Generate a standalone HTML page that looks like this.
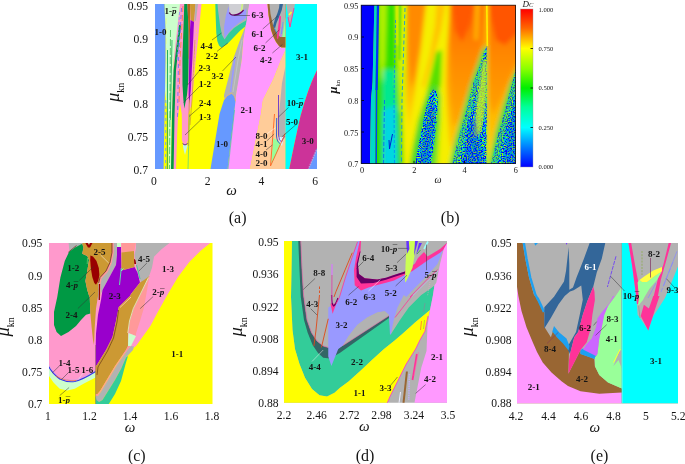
<!DOCTYPE html>
<html><head><meta charset="utf-8"><title>Figure</title><style>
html,body{margin:0;padding:0;background:#fff}
svg{display:block}
text{font-family:"Liberation Serif",serif;fill:#151515}
</style></head><body>
<svg width="685" height="464" viewBox="0 0 685 464">
<rect width="685" height="464" fill="#fff"/>
<defs>
<clipPath id="ca"><rect x="155" y="4" width="162" height="165"/></clipPath>
<clipPath id="cb"><rect x="361" y="5" width="155" height="159"/></clipPath>
<clipPath id="cc"><rect x="49" y="243" width="163.5" height="161"/></clipPath>
<clipPath id="cd"><rect x="284" y="241" width="163" height="161.7"/></clipPath>
<clipPath id="ce"><rect x="517" y="243" width="161" height="160.3"/></clipPath>
</defs>
<defs>
<filter id="bl" x="-10%" y="-10%" width="120%" height="120%"><feGaussianBlur stdDeviation="2.2"/></filter>
<filter id="bl1" x="-10%" y="-10%" width="120%" height="120%"><feGaussianBlur stdDeviation="1"/></filter>
<filter id="nz" x="0" y="0" width="100%" height="100%" color-interpolation-filters="sRGB">
<feTurbulence type="fractalNoise" baseFrequency="0.8" numOctaves="2" seed="11"/>
<feColorMatrix type="matrix" values="2.6 0 0 0 -0.8  2.6 0 0 0 -0.8  2.6 0 0 0 -0.8  0 0 0 0 1"/>
<feComponentTransfer>
<feFuncR type="table" tableValues="0 0 0 0 0 0 0.1 0.4 0.7"/>
<feFuncG type="table" tableValues="0 0 0.1 0.4 0.7 0.85 0.9 0.95 1"/>
<feFuncB type="table" tableValues="1 1 1 1 0.95 0.7 0.4 0.1 0"/>
</feComponentTransfer>
<feGaussianBlur stdDeviation="0.45"/>
<feComposite operator="in" in2="SourceGraphic"/>
</filter>
<linearGradient id="jet" x1="0" y1="0" x2="0" y2="1">
<stop offset="0" stop-color="#ff0000"/><stop offset="0.12" stop-color="#ff6600"/><stop offset="0.25" stop-color="#ffff00"/><stop offset="0.38" stop-color="#88ff00"/><stop offset="0.5" stop-color="#00ee00"/><stop offset="0.62" stop-color="#00ff99"/><stop offset="0.75" stop-color="#00ffff"/><stop offset="0.88" stop-color="#0077ff"/><stop offset="1" stop-color="#0000ff"/>
</linearGradient>
<linearGradient id="gO" gradientUnits="userSpaceOnUse" x1="0" y1="5" x2="0" y2="163"><stop offset="0" stop-color="#ff8400"/><stop offset="0.5" stop-color="#ffa800"/><stop offset="1" stop-color="#ffd400"/></linearGradient>
<linearGradient id="gT" gradientUnits="userSpaceOnUse" x1="0" y1="5" x2="0" y2="140"><stop offset="0" stop-color="#ff9800"/><stop offset="0.55" stop-color="#ffb000"/><stop offset="1" stop-color="#fff000"/></linearGradient>
<linearGradient id="gI" gradientUnits="userSpaceOnUse" x1="0" y1="5" x2="0" y2="163"><stop offset="0" stop-color="#ff5a00"/><stop offset="0.13" stop-color="#ff7400"/><stop offset="0.32" stop-color="#ff8800"/><stop offset="0.6" stop-color="#ff9c00"/><stop offset="1" stop-color="#ffb800"/></linearGradient>
</defs>
<!-- panel a -->
<g clip-path="url(#ca)">
<rect x="155" y="4" width="162" height="165" fill="#ffff00"/>
<!-- left stripes -->
<polygon fill="#ff99cc" points="178,4 201.5,4 198,40 195.5,62 193,90 191.5,105 189,112 188.5,114 188,140 186.5,144.5 183.5,144.5 181.75,140 181.75,114 180,104 178,116 177,140 176,169 173.6,169 172,116 172.5,90 173.6,60"/>
<polygon fill="#ccffcc" points="164.5,4 180,4 177,30 173.6,60 172.5,90 171.75,116 171,169 168.5,169 168,116 166.5,105 165,90 165.5,60 165.5,30"/>
<polygon fill="#c4f5e0" points="182.3,145 187.7,145 185,155"/>
<path d="M182.3,143.5 Q185,146.5 187.7,143.5" stroke="#5a2aa0" stroke-width="1" fill="none"/>
<polygon fill="#009944" points="179,25 181,25 176,70 174.5,116 173.6,169 171,169 172,116 173.6,70"/>
<polygon fill="#009944" points="184.25,4 187.4,4 188.6,30 188.6,58 188.3,80 187,95 185,105 184.3,108.5 183.4,100 182.5,85 182.4,58 183.4,30"/>
<polygon fill="#b5651d" points="187.4,4 190,4 190,30 189.2,60 188.6,58 188.6,30"/>
<polygon fill="#cc9933" points="190,4 195.5,4 194,22 190.5,20"/>
<polygon fill="#9900cc" points="190.5,20 194,22 193.6,30 192.4,58 190.8,90 189.3,104 188.6,95 189.25,58 190,30"/>
<polygon fill="#b2b2b2" points="195.5,4 198,4 196,20 194.5,22"/>
<!-- thin texture lines -->
<g fill="none" stroke-width="0.8">
<path d="M167.5,50 L167.3,169" stroke="#009944"/>
<path d="M166.3,8 L166.5,100" stroke="#e8ff88" stroke-width="0.7" stroke-dasharray="6 4"/>
<path d="M170.5,30 L169.5,169" stroke="#44bb55" stroke-dasharray="7 2"/>
<path d="M165.8,100 L165.6,169" stroke="#6699ff" stroke-dasharray="3 3"/>
<path d="M172,40 L170.3,120" stroke="#009944" stroke-width="0.7"/>
<path d="M181.5,8 L178.5,60 L177.5,120" stroke="#6666ff" stroke-dasharray="4 3"/>
<path d="M183,6 L180,60 L179,104" stroke="#ff7733" stroke-dasharray="6 3"/>
<path d="M179.5,12 L177,60" stroke="#6699ff" stroke-width="0.7" stroke-dasharray="3 2"/>
<path d="M189.5,114 L188,169" stroke="#33cc99" stroke-width="0.6"/>
<path d="M189.3,100 L188.3,146" stroke="#cc9933" stroke-width="0.8"/>
<path d="M195,40 L192,100 L190,125" stroke="#cc9933" stroke-width="0.7"/>
<path d="M196.5,30 L193.5,80" stroke="#ffcc66" stroke-width="0.7" stroke-dasharray="2 1.5"/>
</g>
<polygon fill="#ffff00" points="178.3,118 181.5,118 181.5,140 183,146 184.5,169 177,169 177.5,140"/>
<polygon fill="#6699ff" points="155,4 164.5,4 165.5,30 165.5,60 164.5,116 163.6,169 155,169"/>
<!-- teal / gray / lavender top-middle -->
<polygon fill="#33cc99" points="215.3,4 215.8,20 216.3,33 217.3,41 219,45.5 221.5,47.8 227.75,43.5 234,37 240.25,30.5 245.25,26.5 246.8,23 249,4"/>
<polygon fill="#b2b2b2" points="217.5,4 249,4 247.5,14 246,20.5 240,24 234,28 229,33 224.5,39.5 222,35 220,25 218,10"/>
<polygon fill="#9999ff" points="224.5,39 224,27 226,15 228.5,6 229.5,13 231,15 236,15 241,13.5 243.5,11 246.5,8 246,18 238,23.5 231,29.5 226,36"/>
<polygon fill="#cfcfd4" points="229,4 243.5,4 243,10 241,13 236,14.5 231,14.5 229.5,12"/>
<path d="M229.5,12.5 Q230,15.5 235,15 T243.5,10" stroke="#660066" stroke-width="1.3" fill="none"/>
<path d="M242.3,4 L241.5,11" stroke="#ccff66" stroke-width="1.2"/>
<!-- gray band between yellow and pink -->
<polygon fill="#b2b2b2" points="245.5,26 247,22 243.4,39.5 241.75,60 240,75 236,95 235.5,101 231.5,93.5 224,98 224,95 233.5,58 240,40"/>
<path d="M235,57 L230.5,92" stroke="#9999ff" stroke-width="1.6" fill="none"/>
<path d="M242,40 L238,60 L233,92" stroke="#c0c8cc" stroke-width="0.8" fill="none"/>
<!-- pink 2-1 -->
<polygon fill="#ff99ff" points="249,4 267.5,4 268.5,15 271,30 273.5,37 276,42 279,46 281.5,47.5 285.5,47.5 285.5,50 281,60 273,80 263,100 261,114 250,169 227.5,169 234,114 236,95 241.75,60 243.4,39.5 246.5,21"/>
<!-- blue 1-0 centre -->
<path d="M210.5,169 L219.5,114 L224,100 Q226,95 231.5,93.5 Q235,95 235.5,101 L234,114 L227.5,169 Z" fill="#6699ff"/>
<path d="M224,100 Q226,95 231.5,93.5 Q235,95 235.5,101" stroke="#ffb060" stroke-width="0.7" fill="none"/>
<path d="M234.5,110 L228,169" stroke="#33cc99" stroke-width="0.6" fill="none"/>
<!-- peach -->
<polygon fill="#ffcc99" points="285.5,50 281,60 273,80 263,100 261,114 250,169 285.5,169"/>
<polygon fill="#b2b2b2" points="285.5,66 282,83 279,114 279,135 280.5,140 283,140 285.5,137"/>
<polygon fill="#99ff99" points="273.3,138 281.5,143 277,153 271,165"/>
<polygon fill="#d8f0ff" points="278,137 284,137 282,146 280,144"/>
<g fill="none">
<path d="M278.5,95 L278.5,135 Q279,141 281.5,142 L284.5,136" stroke="#6633cc" stroke-width="0.9"/>
<path d="M276.7,118 L276.5,136 Q277,142 280,143.5" stroke="#3366cc" stroke-width="1"/>
<path d="M274.5,114 L270.5,166 L285.5,133" stroke="#ff6622" stroke-width="0.9"/>
</g>
<!-- cyan / magenta -->
<path d="M285.5,4 L317,4 L317,70 Q308,88 300.5,116 Q295,140 289.25,169 L285.5,169 Z" fill="#00ffff"/>
<path d="M317,70 Q308,88 300.5,116 Q295,140 289.25,169 L317,169 Z" fill="#cc3399"/>
<polygon fill="#6699ff" points="317,148 308.6,169 317,169"/>
<path d="M316.5,150 L308.5,169" stroke="#b0a0e0" stroke-width="1.5" stroke-dasharray="1.5 1" fill="none"/>
<polygon fill="#b2b2b2" points="286.3,4 295,4 290,28"/>
<path d="M294,8 L290,27 L288,17" stroke="#ff3399" stroke-width="0.9" fill="none"/>
<path d="M289,15 L291.5,12" stroke="#ffff33" stroke-width="1.6"/>
<!-- brown 4-2 -->
<polygon fill="#996633" points="267.5,4 268.5,15 271,30 273.5,37 276,42 279,46 281.5,47.5 285.5,47.5 285.5,4"/>
<polygon fill="#b2b2b2" points="269.5,4 285.5,4 285.5,37 280,37 277,33 273,25 270.5,14"/>
<polygon fill="#336699" points="279.5,4 283,4 281.8,10 279.5,16 276.5,23 275,28.5 273,26 275,19 277.5,13 279,8"/>
<path d="M274.5,28 L278,35.5" stroke="#33aaff" stroke-width="0.8"/>
<polygon fill="#ff3399" points="279.5,15.5 281,16.5 280.3,28 278,39.5 276.8,38 278,28"/>
<polygon fill="#99ff99" points="285.3,17 285.5,37 282.3,37 284,27"/>
<path d="M282,27 L280.7,37" stroke="#cc66ff" stroke-width="0.9"/>
<path d="M283,22 L281.5,34" stroke="#33aaff" stroke-width="0.6"/>
<!-- leader lines -->
<g stroke="#333" stroke-width="0.5" fill="none">
<path d="M212,40 L221.5,33"/><path d="M217,51.4 L227.7,43"/><path d="M200,70 L187.5,85"/><path d="M200,86 L183.7,102.5"/>
<path d="M236,57 L222.5,71"/><path d="M201,106 L189,116.5"/><path d="M201,119.6 L185,135"/>
<path d="M234,15.5 L250,15.5"/><path d="M262.7,29 L278,15.7"/><path d="M265.5,43 L279.2,30"/><path d="M272.4,53 L282.4,44.5"/>
<path d="M288.6,107.4 L278.5,117"/><path d="M296,124.6 L281.7,137"/><path d="M266.7,141 L274.2,134"/><path d="M266,150 L272.4,145"/>
<path d="M266.7,134 L275.5,127.7" stroke="#fff"/>
</g>
<g font-size="9" font-weight="bold" text-anchor="middle" fill="#111">
<text x="170.5" y="14.4">1-<tspan font-style="italic">p</tspan><tspan dx="-4.3" dy="-0.6" font-weight="normal">¯</tspan></text><text x="160.6" y="34.5">1-0</text>
<text x="206.5" y="48.8">4-4</text><text x="212" y="59.1">2-2</text><text x="204.5" y="70.5">2-3</text><text x="217.5" y="78.8">3-2</text>
<text x="205" y="86.8">1-2</text><text x="205" y="105.5">2-4</text><text x="205" y="120.0">1-3</text><text x="246.5" y="113.0">2-1</text>
<text x="222" y="147.0">1-0</text><text x="257.5" y="17.6">6-3</text><text x="257.5" y="37.1">6-1</text><text x="259.5" y="50.7">6-2</text>
<text x="266" y="62.6">4-2</text><text x="302" y="60.1">3-1</text><text x="295" y="105.5">10-<tspan font-style="italic">p</tspan><tspan dx="-4.3" dy="-0.6" font-weight="normal">¯</tspan></text><text x="292" y="125.0">5-0</text>
<text x="307.7" y="143.5">3-0</text><text x="261.5" y="139.4">8-0</text><text x="261.5" y="147.2">4-1</text><text x="261.5" y="157.4">4-0</text><text x="261.5" y="165.6">2-0</text>
</g>
</g>
<!-- panel b -->
<g clip-path="url(#cb)">
<g filter="url(#bl)">
<rect x="350" y="-5" width="180" height="180" fill="#f6ee00"/>
<!-- left green zone -->
<polygon fill="#2fe000" points="370,-5 396,-5 400,60 404,175 370,175"/>
<polygon fill="#b4f000" points="379,-5 387,-5 385,60 382,85 379.5,60"/>
<polygon fill="#d0f200" points="396,-5 408,-5 406,70 404,120 400,110 397,60"/>
<polygon fill="#00d8e0" points="383,105 396,98 398,175 383,175"/>
<polygon fill="#00e890" points="383,70 395,70 396,105 383,110"/>
<!-- tongue 1 -->
<polygon fill="url(#gT)" points="406.5,-5 427,-5 421,50 416,85 412,112 409,138 406,100 406,60"/>
<polygon fill="#ff8a00" points="408,-5 425.5,-5 419.5,45 414.5,75 411.5,88 408.5,55"/>
<!-- between t1 and t2 -->
<polygon fill="#ffc400" points="437,-5 447,-5 441,30 432,62 424,88 422,86 430,55 435,25"/>
<polygon fill="#58e000" points="436,52 442,50 441,84 438,100 433,100 426,112 420,135 414,175 408,175 412,150 418,120 426,95"/>
<polygon fill="#a8ec00" points="436,100 440,84 441,120 438,175 432,175"/>
<!-- tongue 2 -->
<polygon fill="url(#gO)" points="450,-5 486,-5 486.5,45 480,65 473,84 465,115 458,140 452,155 449,140 447,110 446,84 447,50 449,20"/>
<polygon fill="url(#gI)" points="452,-5 484,-5 482,40 474,70 466,95 458,120 453,127 451,100 451,50"/>
<polygon fill="#ff5800" points="453,-5 475,-5 470,25 462,42 455,30"/>
<polygon fill="#ffb000" points="475,-5 481,-5 478,40 474,40"/>
<!-- tongue 3 -->
<polygon fill="url(#gO)" points="488,-5 525,-5 525,60 512,84 505,110 498,135 491,160 489,160 487.5,120 487.5,60"/>
<polygon fill="url(#gI)" points="489,-5 525,-5 525,40 510,75 500,100 493,115 489.5,100 489.5,40"/>
<polygon fill="#ff5400" points="491,-5 525,-5 525,25 505,45 496,40 492,20"/>
<polygon fill="#48d838" points="433,86 438,88 440.5,96 440,110 439,124 437,142 434,170 411,170 414,150 418,130 422,113 425,100 428,92"/>
<polygon fill="#60d848" points="487,44 482,50 477,64 470,84 462,113 455,138 448,170 487,170"/>
<polygon fill="#58d848" points="520,62 510,82 502,108 495,133 487.5,170 520,170"/>
</g>
<!-- speckle regions -->
<g filter="url(#nz)">
<polygon points="433.5,89.5 436,91 437.8,96 437.5,108 436.5,122 434.5,140 431,164 415,164 417.5,150 421,132 424.5,115 427.5,102 430,94"/>
<polygon points="486.5,46 484,52 480,65 473,84 465,115 458,140 452.4,164 486.3,164 486.8,100"/>
<polygon points="516,69 512,84 505,110 498,135 491,164 517,164"/>
</g>
<g filter="url(#bl1)">
<polygon fill="#f0f000" points="396,5 398.3,5 397.6,45 396.3,45"/>
<polygon fill="#50e010" points="398.5,5 401.6,5 400.5,60 398.8,60"/>
<polygon fill="#d8f200" points="401.8,5 406.2,5 405,70 402.5,70"/>
<polygon fill="#c8f020" opacity="0.8" points="483,60 486.5,60 486.5,84 486,100 483.5,118 480,134 474,136 475,120 477,100 479.5,84"/>
<polygon fill="#60e040" opacity="0.45" points="484,52 480,65 473,84 465,115 458,140 452.4,164 458,164 463,140 470,115 477,88 483,66"/>
<polygon fill="#0030e0" opacity="0.35" points="470,120 476,118 480,145 484,164 462,164"/>
<polygon fill="#60e040" opacity="0.45" points="516,69 512,84 505,110 498,135 491,164 497,164 503,138 510,112 516,90"/>
<polygon fill="#0030e0" opacity="0.3" points="516,100 510,120 503,164 516,164"/>
<polygon fill="#0030e0" opacity="0.35" points="432,98 435,110 433,135 428,164 420,164 424,135 428,110"/>
</g>
<!-- sharp features -->
<path d="M486.8,5 L487.3,46" stroke="#ffee00" stroke-width="1.6"/>
<polygon fill="#0000ff" points="361,5 374.4,5 372.6,82 371,100 370,164 361,164"/>
<polygon fill="#00d8c8" points="374.4,5 376.8,5 375.5,84 375,164 370,164 371,100 372.6,82"/>
<path d="M378,5 L376.6,90" stroke="#0030ff" stroke-width="2.3" fill="none"/><path d="M376.6,88 L376.2,164" stroke="#0040ff" stroke-width="1.5" fill="none"/>
<path d="M395.5,20 L394,100 L394.5,164" stroke="#0088ff" stroke-width="0.8" stroke-dasharray="3 2" fill="none"/>
<path d="M405,8 L402,100 L401.5,164" stroke="#0088ff" stroke-width="0.8" stroke-dasharray="4 2.5" fill="none"/>
<path d="M384.5,100 L383.5,164" stroke="#0060ff" stroke-width="0.8" stroke-dasharray="4 2" fill="none"/>
<path d="M392.5,134 L389.5,149 L389,140" stroke="#0020d0" stroke-width="1" fill="none"/>
</g>
<rect x="361.2" y="5.2" width="154.2" height="158.4" stroke="#111" stroke-width="0.8" fill="none"/>
<rect x="520.5" y="9" width="12.5" height="158" fill="url(#jet)" stroke="#999" stroke-width="0.4"/>
<g stroke="#000" stroke-width="0.8"><path d="M530.5,48.5 h2.5"/><path d="M530.5,88 h2.5"/><path d="M530.5,127.5 h2.5"/>
<path d="M361.5,37 h2.5"/><path d="M361.5,68.5 h2.5"/><path d="M361.5,100.5 h2.5"/><path d="M361.5,132 h2.5"/><path d="M414,163.3 v-2.5"/><path d="M464.5,163.3 v-2.5"/></g>
<!-- panel c -->
<g clip-path="url(#cc)">
<rect x="48" y="242" width="165" height="162" fill="#ffff00"/>
<polygon fill="#ff99cc" points="48,242 211.5,242 200.4,251 189.3,262 178,277 167,295.6 157.8,312 150.4,326 142.5,337 136,346 130,350 95.6,371 89.75,375 82.25,378.75 74.75,381.25 67.25,381.25 59.75,378.75 53.5,373.75 48,365.5"/>
<polygon fill="#ccffcc" points="48,365.5 53.5,373.75 59.75,378.75 67.25,381.25 74.75,381.25 82.25,378.75 89.75,375 95.6,371.25 95.6,377.5 83.5,383.75 74.75,388.75 67.25,390.6 59.75,388.75 53.5,382.5 48,374.5"/>
<g fill="none">
<path d="M48.7,366.5 Q52,373 59.75,379 Q67,382.5 74.75,381.5 Q83,379.5 95.6,371.5" stroke="#3333ee" stroke-width="1.1"/>
<path d="M56,376 Q66,381.5 76,380.5" stroke="#ff6622" stroke-width="0.8"/>
<path d="M48.7,364.8 Q52,371.5 59.75,377.5 Q67,381 74.75,380 Q83,378 95.6,370" stroke="#c8a8f0" stroke-width="0.6"/>
</g>
<!-- gray top-left + green -->
<polygon fill="#b2b2b2" points="68.5,242 86,242 82,244.5 75,248 69.5,252"/>
<path d="M68.3,252.3 L76.5,245.5" stroke="#7a3a2a" stroke-width="0.8"/>
<polygon fill="#009944" points="69,252 75,247.5 82.25,243.75 83.5,247.5 82.25,253.75 87.25,256 89,260 87.25,271 85.4,281 87.25,290 89.75,298 90.4,313.5 86,314.75 81,320 76,326 68.5,332 61,336 56.6,332 54,325 54,312 57.25,297 60.4,277.5 64.75,261"/>
<!-- tan T1 -->
<polygon fill="#cc9933" points="82.25,243.75 84,242 112,242 112,252.5 110,262.5 106,271 100,277.5 98.5,283 99,290 98,296 96,308.5 94.75,327 94,345 93,340 91.6,327 90.4,313.5 89.75,298 87.25,290 85.4,281 87.25,271 89,260 87.25,256 82.25,253.75 83.5,247.5"/>
<polygon fill="#990000" points="90.4,255.5 93,256.5 96.5,261 98.8,268 99.4,275 98.2,281 96,284.8 94.3,283 92.3,277 90.8,268 90.2,260"/>
<polygon fill="#990000" points="84.75,242 87,242 89,245 90.5,242 93,242 90,247.5 88,247.5"/>
<polygon fill="#b2b2b2" points="87.2,242 90.3,242 89,244.5"/>
<path d="M87.5,258 L87.2,264" stroke="#66cc66" stroke-width="0.8"/>
<!-- bands between T1 and purple -->
<polygon fill="#b2b2b2" points="112,242 117,242 117,255 116,265 102.5,290 100,296 98,300 98.5,283 100,277.5 106,271 110,262.5 112,252.5"/>
<path d="M113,242 L113,252.5 L111,262.8 L107,271.5 L101,278 L99.7,284 L99.7,296" stroke="#ff9999" stroke-width="1.6" fill="none"/>
<path d="M112,242 L112,252.5 L110,262.5 L106,271 L100,277.5 L98.7,283" stroke="#7a2a1a" stroke-width="0.8" fill="none"/>
<path d="M99.5,284 L99.3,300" stroke="#990000" stroke-width="1.2" fill="none"/>
<!-- purple -->
<polygon fill="#9900cc" points="117,247 121,247 121.5,270.5 134.5,267 137.5,272.5 140,282.5 131,294 130,296 118.75,307 116,321 112.5,337 106,350 96.5,365.6 95.6,366 95.6,350 96,333.5 98,314.75 101,300 102.5,290 116,265 117,255"/>
<polygon fill="#ccffcc" points="117,242 121,242 121,247 117,247"/>
<polygon fill="#ff9999" points="121.5,242 136,242 134.5,250 134,251.5 121.5,253"/>
<polygon fill="#cc9933" points="121.5,252.5 134,251 134.5,267 121.5,270.5"/>
<polygon fill="#990000" points="134,259 136,260 136,264 134.3,264"/>
<path d="M121.3,268 L119.5,285" stroke="#66ddaa" stroke-width="1"/>
<path d="M121,271 L123.5,268.5" stroke="#66ffcc" stroke-width="1"/>
<!-- gray 4-5 -->
<polygon fill="#b2b2b2" points="136,242 170.8,242 161.5,249.3 154,256.7 152,267.8 149.5,275 148,278 141,283 139,276 136.5,266 134.5,255 136,248"/>
<path d="M136.5,265 L140,279" stroke="#33cc99" stroke-width="0.9"/>
<!-- diagonal bands -->
<polygon fill="#ff9999" points="149.5,276 146,296 143.75,308.5 140,321 136,333.5 136,336 128.5,333 128,333.5 130,321 133.75,308.5 140,296"/>
<polygon fill="#cc9933" points="149.5,276 140,296 133.75,308.5 130,321 128,333.5 128,346 126,350 115,366 106,381 100,391 97.5,394 95.6,394 95.6,366 96.5,365.6 106,350 112.5,337 116,321 118.75,307 130,296 131,294 140,282.5 144,280"/>
<path d="M148.5,277.5 L139.5,296 L133.3,308.5 L129.5,321 L127.8,333" stroke="#eaffea" stroke-width="0.7" fill="none"/>
<path d="M131,297 L120,307.5" stroke="#ffc8c8" stroke-width="0.8" fill="none"/>
<path d="M118.5,310 L117,322 L113.5,338 L107.5,351 L98,367 L97,375" stroke="#5a2a10" stroke-width="0.6" fill="none"/>
<polygon fill="#ccffcc" points="128.5,333 136,336 131,346 128,346"/>
<polygon fill="#ff9999" points="128,346 131,346 127.5,350 116.5,366 107.5,381 101.5,391 98,396 95.6,396 95.6,394 97.5,394 100,391 106,381 115,366 126,350"/>
<polygon fill="#b2b2b2" points="131,346 134,346.5 133,350 126,357.5 121,369 115,380 108.75,390 102.5,400 99,402 95.6,402 95.6,396 98,396 101.5,391 107.5,381 116.5,366 127.5,350"/>
<polygon fill="#33cc99" points="128,356 126,362.5 121,381 115,394 108.75,404 95.6,404 95.6,396 96.5,400 99,402 102.5,400 108.75,390 115,380 121,369 126,357.5"/>
<path d="M95.6,345 L95.6,404" stroke="#8a6a50" stroke-width="0.5"/>
<g stroke="#333" stroke-width="0.5" fill="none">
<path d="M79.1,280.6 L94.1,266.2"/><path d="M77.9,308.5 L95,292"/><path d="M146.9,263 L138.7,271.2"/><path d="M153.2,296.5 L140.2,308.6"/>
<path d="M59.7,365.6 L52.2,373"/><path d="M68.5,372.5 L61.6,379.4"/><path d="M59.7,395.6 L69.1,387.5"/>
<path d="M100.6,255 L108.7,263" stroke="#fff"/><path d="M82.9,373 L78.5,379.4" stroke="#eee"/>
</g>
<g font-size="9" font-weight="bold" text-anchor="middle" fill="#111">
<text x="73.2" y="270.6">1-2</text><text x="72.2" y="288.1">4-<tspan font-style="italic">p</tspan><tspan dx="-4.3" dy="-0.6" font-weight="normal">¯</tspan></text><text x="99.6" y="255.0">2-5</text><text x="71.6" y="318.4">2-4</text>
<text x="114.7" y="298.6">2-3</text><text x="144" y="261.8">4-5</text><text x="168" y="271.8">1-3</text><text x="158.3" y="295.1">2-<tspan font-style="italic">p</tspan><tspan dx="-4.3" dy="-0.6" font-weight="normal">¯</tspan></text>
<text x="177.2" y="357.2">1-1</text><text x="64.4" y="365.6">1-4</text><text x="73.5" y="373.1">1-5</text><text x="87.2" y="373.1">1-6</text><text x="64.1" y="403.1">1-<tspan font-style="italic">p</tspan><tspan dx="-4.3" dy="-0.6" font-weight="normal">¯</tspan></text>
</g>
</g>
<!-- panel d -->
<g clip-path="url(#cd)">
<rect x="284" y="241" width="164" height="163" fill="#b2b2b2"/>
<!-- teal generous -->
<polygon fill="#33cc99" points="292,241 291.5,270 291,297 292.5,330 295,349 299.5,364 305,377.75 312,389 319.5,395.25 327,396.5 334.5,392.75 340,387.75 348.5,381.5 361,370.25 373.5,358.4 384,349 394,341 402.5,333.75 415,322.5 430,310 433,295 434.4,285.5 430,289 421.25,295 408.75,307.5 400,320 391,334 389,317 340,352 330,358 320,352 310,335 303,300 299,241"/>
<polygon fill="#ffff00" points="284,241 292,241 291.5,270 291,297 292.5,330 295,349 299.5,364 305,377.75 312,389 319.5,395.25 327,396.5 334.5,392.75 340,387.75 348.5,381.5 361,370.25 373.5,358.4 384,349 394,341 402.5,333.75 415,322.5 430,310 427.5,320 425,331.25 420,340 415.6,349 406.25,364 397.5,381.5 390,396.5 387.25,403 284,403"/>
<!-- dark teal band -->
<polygon fill="#336666" points="298.25,241 299.5,270 300.75,297 304,320 307.6,332.5 312.6,345 318,353 323.25,357.75 330,358.5 339.75,353 389,318 389,315.6 342.9,345.6 336,350 328.25,347.5 323.25,346 317,341 311.4,332.5 307,320 303.5,295 302,270 300.75,241"/>
<!-- gray interior -->
<polygon fill="#b2b2b2" points="300.75,241 345,241 345,300 328.25,307.5 328.25,347.5 323.25,346 317,341 311.4,332.5 307,320 303.5,295 302,270"/>
<path d="M300.75,241 L302,270 L303.5,295 L307,320 L311.4,332.5 L317,341 L323.25,346 L328.25,347.5" stroke="#e060a0" stroke-width="0.7" fill="none"/>
<!-- lavender 3-2 -->
<polygon fill="#9999ff" points="328.25,307.5 330.75,306 332.5,313 335.75,305 339.75,297 346,276.5 352.25,257.75 357.9,241 359.75,241 356,257.75 354,270.25 354.75,285.25 361,290.25 368.5,286.5 377.25,283.4 386,280.25 394,276.5 412.5,270.25 427.5,259.6 440,251.5 444,247 442.5,251.5 437.5,264 427.5,275.25 415,287.75 406.25,297 403.75,295 397.5,307.5 393.75,320 391,334 390,335 389,315 384.75,311.25 377.25,312.5 367.25,317.5 357.25,325 348.5,336.25 342.9,345.6 338.25,349 331.4,366 328.25,356.5"/>
<!-- gray lobe -->
<polygon fill="#b2b2b2" points="342.9,345.6 348.5,336.25 357.25,325 367.25,317.5 377.25,312.5 384.75,311.25 389,315 389,315.8"/>
<path d="M342.9,345.6 L389,315.7" stroke="#e060a0" stroke-width="0.6"/>
<!-- V at left -->
<polygon fill="#ff3399" points="330.5,303.5 336.3,303.5 332.6,313.8"/>
<polygon fill="#b2b2b2" points="332,296 337.5,298 334,304.5"/>
<path d="M331.6,295 Q331.6,305 333.6,306 Q335.5,305 338,298" stroke="#660066" stroke-width="1.3" fill="none"/>
<path d="M332,264 L331.8,303" stroke="#dd44aa" stroke-width="0.9"/>
<path d="M332,264 L332,275" stroke="#cc99ff" stroke-width="1.2"/>
<path d="M357.5,242 L352,257.75 L345.7,276.5 L339.5,297 L336,304" stroke="#ff3399" stroke-width="0.8" fill="none"/>
<!-- hot pink U and dark purple -->
<polygon fill="#ff3399" points="359.75,241 361,241 360.5,251.5 357.9,264 359,274 364.75,278.2 377.25,279.4 386,277.8 394,275 403.75,272 415,263.4 418,258 424,252 427.5,256.5 440,249 447.25,242.5 447.25,246.6 440,252.8 427.5,260.6 412.5,271 394,280.5 386,282.8 377.25,285 368.5,287.5 361,290.5 354.75,285.25 354,270.25 356,257.75"/>
<polygon fill="#660066" points="359.75,251.5 360.5,251.5 357.9,264 359,274 364.75,278.2 377.25,279.4 386,277.8 394,275 405,271.5 405,273.5 394,277 386,279.8 373.5,283 361,283.5 356.6,277 356.6,264"/>
<!-- yellow-green 5-3 -->
<polygon fill="#ccff55" points="406.25,250 409.4,241 417,241 414.5,256 412.5,267.75 405.6,282.5 405,281 405.5,265"/>
<polygon fill="#6633ff" points="406.25,241 408.75,241 409.4,249 406.9,254"/>
<polygon fill="#6633ff" points="415,241 418,241 414,256"/>
<polygon fill="#6633ff" points="419,243 422,243 416,255"/>
<path d="M417,254 L420.5,250" stroke="#339933" stroke-width="0.8"/>
<path d="M428,241.5 L424,249" stroke="#99ffff" stroke-width="1.6"/>
<!-- lines below lavender -->
<path d="M410,297 L427.5,279 L437.5,269.6" stroke="#ff3399" stroke-width="0.8" fill="none"/>
<path d="M411.5,297 L428.5,280 L438,271" stroke="#c8a8ff" stroke-width="0.6" fill="none"/>
<path d="M412.5,295 L395,317.5" stroke="#ff3399" stroke-width="0.8"/>
<path d="M430,282 L427.5,296" stroke="#ff99cc" stroke-width="0.5" stroke-dasharray="1 1"/>
<!-- pink right -->
<polygon fill="#ff99ff" points="447.5,242 443.75,249 440,264 436.25,282.75 434.4,285.5 433,295 430,310 427.5,326 426.5,351 421.25,367.75 416.9,390.25 414.4,403 447.5,403"/>
<!-- bottom-right gray wedge details -->
<path d="M428,316 L425,331.25 L420,340 L415.6,349 L406.25,364 L397.5,381.5 L390,396.5 L387.25,403" stroke="#ff33cc" stroke-width="0.8" fill="none"/>
<path d="M416.9,354 L412.5,380" stroke="#ff3399" stroke-width="1.8"/>
<path d="M418.5,352 L414,376" stroke="#ff66aa" stroke-width="0.6"/>
<path d="M406.9,371.5 L403.5,403" stroke="#996633" stroke-width="2"/>
<path d="M409.4,374 L408.75,400" stroke="#c0b0f0" stroke-width="1.6" stroke-dasharray="1.5 0.8"/>
<path d="M400.5,392 L399,403" stroke="#eeeeff" stroke-width="1"/>
<path d="M421.5,321 L420.5,330" stroke="#ff6633" stroke-width="0.7"/><path d="M424.5,320 L423.5,329" stroke="#99cc33" stroke-width="0.7"/>
<path d="M425,303 L423.5,312" stroke="#888899" stroke-width="0.6"/>
<!-- orange lines 4-3 -->
<g stroke="#e04a18" stroke-width="0.9" fill="none">
<path d="M319.5,286.5 L319.5,293" stroke-dasharray="2.5 1.5"/><path d="M319.5,295 L316,330 L313.9,346"/>
<path d="M352.25,252.75 L336,291.5 L334,297"/><path d="M328.25,318.75 L321.4,347.5"/>
</g>
<g stroke="#333" stroke-width="0.5" fill="none">
<path d="M315.1,278.4 L303.2,289.6"/><path d="M310.7,308.7 L317,315"/><path d="M398,248.4 L407.5,248.4"/><path d="M397,262.7 L406.2,254"/>
<path d="M395.6,286 L407,275.2"/><path d="M426.5,244.6 L426.5,270.2"/><path d="M397.5,377 L390,386"/><path d="M425.6,384.6 L415.6,393.4"/>
<path d="M358.5,286.5 L348.5,295.2"/><path d="M363.5,261.5 L356.6,268.4"/>
<path d="M312,361.5 L323.2,350" stroke="#eee"/><path d="M380.4,279.6 L368.5,291" stroke="#fff"/>
</g>
<g font-size="9" font-weight="bold" text-anchor="middle" fill="#111">
<text x="319.2" y="276.4">8-8</text><text x="312.3" y="307.4">4-3</text><text x="314.8" y="369.6">4-4</text><text x="341.5" y="328.1">3-2</text>
<text x="351.3" y="305.1">6-2</text><text x="369.4" y="299.6">6-3</text><text x="368.2" y="260.8">6-4</text><text x="389" y="251.5">10-<tspan font-style="italic">p</tspan><tspan dx="-4.3" dy="-0.6" font-weight="normal">¯</tspan></text>
<text x="391.5" y="270.8">5-3</text><text x="390.8" y="295.8">5-2</text><text x="430.6" y="278.2">5-<tspan font-style="italic">p</tspan><tspan dx="-4.3" dy="-0.6" font-weight="normal">¯</tspan></text>
<text x="357" y="364.6">2-2</text><text x="359.5" y="395.8">1-1</text><text x="385.4" y="391.4">3-3</text><text x="436.9" y="359.6">2-1</text><text x="430" y="382.4">4-2</text>
</g>
</g>
<!-- panel e -->
<g clip-path="url(#ce)">
<rect x="516" y="242" width="163" height="162" fill="#996633"/>
<polygon fill="#ff99ff" points="516,285 516.75,285 518.4,296 521.5,311 526.5,327.25 532.75,342.25 537,352 542.75,362.5 551.5,372.5 561.5,381.25 568,386 580.5,391.25 599.25,393.75 621.8,392.5 621.8,404 516,404"/>
<!-- gray interior -->
<polygon fill="#b2b2b2" points="522.5,242 525.25,258.75 529,277.5 534,295 535.25,296 544,312.25 544.6,327.25 550.9,337.25 554,328 559,336.5 566.5,342.5 569,350 568.4,373.75 580.5,350 580.5,353.75 594.25,358.75 594.9,366.25 599.25,375 608,382.5 621.8,388.5 621.8,242"/>
<path d="M523.7,242 L526.5,258.75 L530.2,277.5 L535.3,294.5 L538,299.5" stroke="#1ea0f0" stroke-width="2.4" fill="none"/>
<path d="M537.5,298 L544,312" stroke="#1ea0f0" stroke-width="2.6" fill="none"/>
<polygon fill="#1ea0f0" points="534,242 539,242 535.2,245.8"/>
<polygon fill="#7733ff" points="565.7,242 567.9,242 566.3,245"/>
<!-- steel blue -->
<polygon fill="#336699" points="568.6,247 569.3,265 569.3,289.8 573,287.6 576.7,277 579.5,270 583.9,258.75 590,242 605.5,242 601.75,258.75 596.75,272.5 593.3,286.5 587.3,301.2 582.8,314.8 578.2,332 574.25,337.25 570,354 568,350 568,346 576,332 579.75,314.8 582.8,299.7 581.25,285.4 573.7,290.2 570,291.6 564.7,296 558.6,304.25 551,317.8 544.3,328.4 544.3,307.25 554,296.7 564,281.6 566,271 567.8,255"/>
<!-- sky blue 8-4 -->
<polygon fill="#1ea0f0" points="554,326 559,332.25 566.5,338.5 569.5,346 568.5,350.5 563,343.5 557,337.5 552.3,331.5"/>
<polygon fill="#1ea0f0" points="580.5,350 583,348.5 597,355.5 594.5,359 580.3,354"/>
<!-- light green 4-1 -->
<polygon fill="#99ff99" points="621,288 614.25,298 608,306 604.25,314.75 601.75,327.25 599.25,338.5 597.4,354 594.9,357.5 594.9,366.25 599.25,375 608,382.5 621.8,388.5"/>
<polygon fill="#b2b2b2" points="619.5,351 621.8,350 621.8,368.5 618.5,360 613.3,366.3"/>
<path d="M620.3,349 L613.5,362.5" stroke="#ffff33" stroke-width="1"/>
<!-- orchid 8-3 -->
<polygon fill="#cc66ff" points="613,296 614.25,296 608,306 604.25,314.75 601.75,327.25 599.25,338.5 597.4,354 596,356 583,349.5 586.75,344 591.75,338.5 596,327.25 597.4,318.5 601.75,312.25 609.25,303.5"/>
<!-- hot pink 6-2 -->
<polygon fill="#ff3399" points="593.3,286.5 594.5,292 594.9,300 592.4,314.75 591,327.25 586.75,342.25 581.75,348.5 580.5,350 575,361 568.4,373.75 569,360 570,354 574.25,337.25 578.2,332 582.8,314.8 587.3,301.2"/>
<path d="M616,256.25 L607.4,287" stroke="#6633ff" stroke-width="0.8" stroke-dasharray="4 1"/>
<!-- cyan + V -->
<rect x="621.8" y="242" width="57" height="162" fill="#00ffff"/>
<path d="M622.3,288 L622.3,403" stroke="#66ffee" stroke-width="0.8"/>
<polygon fill="#b2b2b2" points="628.25,242 679,242 679,264 672,281.25 665,298 658,309 652.6,317.25 648.25,330.4 642,321 637.6,314.75 636.4,298 634.5,283.75 632,265"/>
<polygon fill="#ff3399" points="628.25,242 631,242 635,265 638.4,282.5 639.6,298 638.3,304 636.9,304 636.4,298 634.5,283.75 632,265"/>
<polygon fill="#ff3399" points="668.9,242 671.4,242 665,265 660.75,280 657.6,298 653.25,298 658.25,277.5 663.25,265"/>
<polygon fill="#ff3399" points="643.9,304.75 648.9,308.5 653.25,296 659.5,296 655.5,308 652.6,317.25 648.25,330.4 640.75,316"/>
<path d="M638.5,305 L640,318" stroke="#909090" stroke-width="0.7"/>
<polygon fill="#99ff99" points="637.6,282.5 639.5,280 642,281.9 647,281.9 654.5,276.25 662,271.25 657,280 649.5,288.75 644.5,297 643,300 638,306 638.9,298"/>
<polygon fill="#ffff44" points="639.5,280 644.5,276.25 653.25,270.6 662,266.9 662,271.25 654.5,276.25 647,281.9 642,281.9"/>
<g fill="none" stroke="#8888ff" stroke-width="0.7">
<path d="M677,251.25 L663.25,286.25"/><path d="M673,262 L661,292" stroke-dasharray="5 2"/><path d="M656,283 L648,298"/>
</g>
<path d="M642,251 L642,275" stroke="#88aa44" stroke-width="0.7" stroke-dasharray="2 1.2"/>
<g stroke="#333" stroke-width="0.5" fill="none">
<path d="M593.6,325.4 L596.7,321.6"/><path d="M606.7,324.7 L595.5,335.4"/><path d="M666.4,278.7 L674.5,287.5"/><path d="M610.5,276.2 L624.5,291"/>
<path d="M547,343.5 L558.4,332.2" stroke="#803060"/><path d="M650.5,258 L650.5,277.5" stroke="#803060" stroke-width="0.7"/>
</g>
<g font-size="9" font-weight="bold" text-anchor="middle" fill="#111">
<text x="590.5" y="270.1" style="fill:#fff">6-1</text><text x="550" y="351.6">8-4</text><text x="533.7" y="390.1">2-1</text><text x="584.9" y="331.3">6-2</text>
<text x="612.4" y="322.1">8-3</text><text x="611.7" y="341.9">4-1</text><text x="582" y="382.4">4-2</text><text x="655.9" y="363.8">3-1</text>
<text x="653.9" y="256.6">8-2</text><text x="672.6" y="293.1">9-3</text><text x="631" y="298.6">10-<tspan font-style="italic">p</tspan><tspan dx="-4.3" dy="-0.6" font-weight="normal">¯</tspan></text>
</g>
</g>
<!-- axis labels and captions -->
<g font-size="11.6" text-anchor="end">
<text x="148" y="9.9">0.95</text><text x="148" y="42.7">0.9</text><text x="148" y="75.5">0.85</text><text x="148" y="108.3">0.8</text><text x="148" y="141.0">0.75</text><text x="148" y="173.8">0.7</text>
<text x="42.4" y="247.2">0.95</text><text x="42.4" y="279.5">0.9</text><text x="42.4" y="311.7">0.85</text><text x="42.4" y="344.0">0.8</text><text x="42.4" y="376.2">0.75</text><text x="42.4" y="408.0">0.7</text>
<text x="278.5" y="246.0">0.95</text><text x="278.5" y="278.3">0.936</text><text x="278.5" y="310.6">0.922</text><text x="278.5" y="342.9">0.908</text><text x="278.5" y="375.2">0.894</text><text x="278.5" y="406.6">0.88</text>
<text x="511.5" y="247.2">0.95</text><text x="511.5" y="279.5">0.936</text><text x="511.5" y="311.8">0.922</text><text x="511.5" y="344.1">0.908</text><text x="511.5" y="376.4">0.894</text><text x="511.5" y="407.2">0.88</text>
</g>
<g font-size="11.6" text-anchor="middle">
<text x="153.8" y="184.8">0</text><text x="207.6" y="184.8">2</text><text x="261.4" y="184.8">4</text><text x="315.2" y="184.8">6</text>
<text x="48" y="419.9">1</text><text x="89.5" y="419.9">1.2</text><text x="130" y="419.9">1.4</text><text x="171" y="419.9">1.6</text><text x="212" y="419.9">1.8</text>
<text x="284" y="419.1">2.2</text><text x="316.7" y="419.1">2.46</text><text x="349.5" y="419.1">2.72</text><text x="381.5" y="419.1">2.98</text><text x="414" y="419.1">3.24</text><text x="448" y="419.1">3.5</text>
<text x="516" y="419.9">4.2</text><text x="548.5" y="419.9">4.4</text><text x="581" y="419.9">4.6</text><text x="613.5" y="419.9">4.8</text><text x="645.8" y="419.9">5</text><text x="678.3" y="419.9">5.2</text>
</g>
<g font-size="8.2" text-anchor="end">
<text x="358.3" y="9">0.95</text><text x="358.3" y="40.3">0.9</text><text x="358.3" y="71.6">0.85</text><text x="358.3" y="103.8">0.8</text><text x="358.3" y="135.8">0.75</text><text x="358.3" y="166.6">0.7</text>
</g>
<g font-size="8.2" text-anchor="middle">
<text x="362" y="173">0</text><text x="414.3" y="173">2</text><text x="464.5" y="173">4</text><text x="515.8" y="173">6</text>
</g>
<g font-size="6.6" text-anchor="start">
<text x="538.5" y="11.7">1.000</text><text x="538.5" y="50.7">0.750</text><text x="538.5" y="90.4">0.500</text><text x="538.5" y="129.9">0.250</text><text x="538.5" y="169.4">0.000</text>
</g>
<text x="522.5" y="6.5" font-size="9" font-style="italic">D<tspan font-size="6.5" dy="0.3">C</tspan></text>
<g font-style="italic" text-anchor="middle">
<text x="231.6" y="195" font-size="15">ω</text>
<text x="438" y="183" font-size="10">ω</text>
<text x="130" y="432" font-size="15">ω</text>
<text x="364.3" y="431" font-size="15">ω</text>
<text x="594.8" y="431.5" font-size="15">ω</text>
</g>
<g font-style="italic" font-size="18.5">
<text transform="translate(119,102) rotate(-90)">μ<tspan font-size="10" dy="4.8" font-style="normal">kn</tspan></text>
<text transform="translate(9.3,336.5) rotate(-90)">μ<tspan font-size="10" dy="4.8" font-style="normal">kn</tspan></text>
<text transform="translate(241.7,336.5) rotate(-90)">μ<tspan font-size="10" dy="4.8" font-style="normal">kn</tspan></text>
<text transform="translate(473.3,336.5) rotate(-90)">μ<tspan font-size="10" dy="4.8" font-style="normal">kn</tspan></text>
<text transform="translate(337,93.5) rotate(-90)" font-size="12.5" font-weight="bold">μ<tspan font-size="6.5" dy="2.8" font-style="normal" font-weight="normal">kn</tspan></text>
</g>
<g font-size="16" text-anchor="middle">
<text x="237.6" y="222.5">(a)</text><text x="450.2" y="222.5">(b)</text>
<text x="136.8" y="461">(c)</text><text x="365" y="461">(d)</text><text x="599.5" y="461">(e)</text>
</g>
</svg></body></html>
